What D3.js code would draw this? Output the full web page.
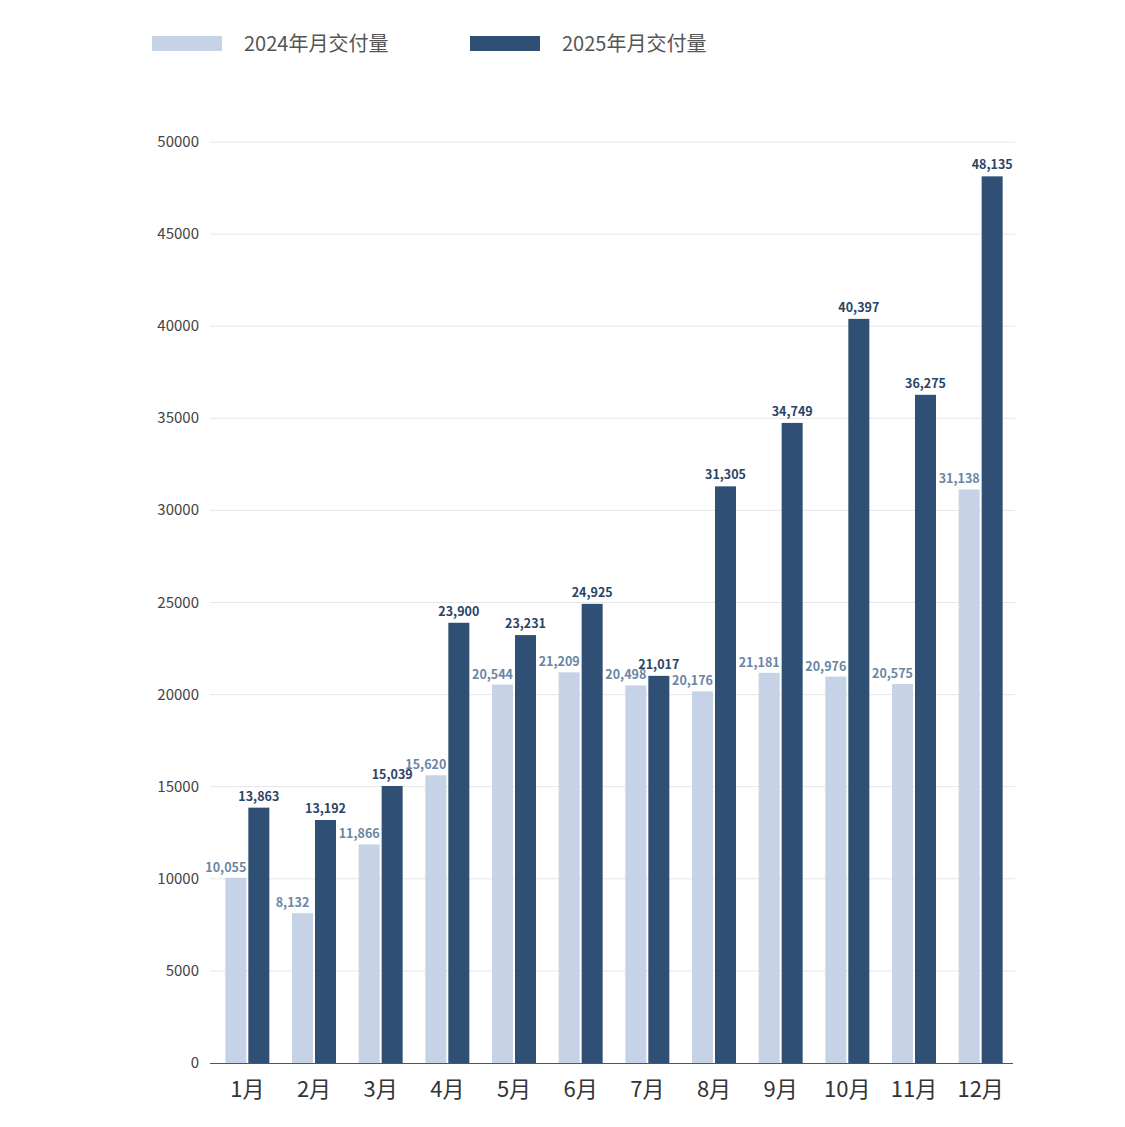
<!DOCTYPE html>
<html lang="zh">
<head>
<meta charset="UTF-8" />
<script src="https://d3js.org/d3.v7.min.js"></script>
<style>
  body { margin: 0; background: #fff; font-family: "Noto Sans CJK SC", "Noto Sans", sans-serif; }
</style>
</head>
<body>
<div id="chart"></div>
<script>
const months = ["1月","2月","3月","4月","5月","6月","7月","8月","9月","10月","11月","12月"];
const sales2024 = [10055, 8132, 11866, 15620, 20544, 21209, 20498, 20176, 21181, 20976, 20575, 31138];
const sales2025 = [13863, 13192, 15039, 23900, 23231, 24925, 21017, 31305, 34749, 40397, 36275, 48135];
const seriesNames = ["2024年月交付量", "2025年月交付量"];
const yTicks = [0, 5000, 10000, 15000, 20000, 25000, 30000, 35000, 40000, 45000, 50000];

const width = 1125, height = 1127;
const lightColor = "#c6d3e6", darkColor = "#2f4f75";

const svg = d3.select("#chart").append("svg").attr("width", width).attr("height", height);

const y = d3.scaleLinear().domain([0, 50000]).range([1063, 142]);
const x = d3.scaleBand().domain(months).range([214, 1014]).paddingInner(0.34).paddingOuter(0.17);
const bw = 21;

// grid
svg.append("g").selectAll("line").data(yTicks.slice(1)).join("line")
  .attr("x1", 210).attr("x2", 1015)
  .attr("y1", d => y(d)).attr("y2", d => y(d))
  .attr("stroke", "#e6e6e6").attr("stroke-width", 1);

svg.append("g").selectAll("text").data(yTicks).join("text")
  .attr("x", 199).attr("y", d => y(d) + 5)
  .attr("text-anchor", "end").attr("font-size", 15).attr("fill", "#444")
  .text(d => d);

// bars
const cx = m => x(m) + x.bandwidth() / 2;
svg.append("g").selectAll("rect").data(sales2024).join("rect")
  .attr("x", (d, i) => cx(months[i]) - bw - 1).attr("width", bw)
  .attr("y", d => y(d)).attr("height", d => y(0) - y(d)).attr("fill", lightColor);
svg.append("g").selectAll("rect").data(sales2025).join("rect")
  .attr("x", (d, i) => cx(months[i]) + 1).attr("width", bw)
  .attr("y", d => y(d)).attr("height", d => y(0) - y(d)).attr("fill", darkColor);

// value labels
const fmt = d3.format(",");
svg.append("g").selectAll("text").data(sales2024).join("text")
  .attr("x", (d, i) => cx(months[i]) - bw / 2 - 11).attr("y", d => y(d) - 6)
  .attr("text-anchor", "middle").attr("font-size", 12.5).attr("font-weight", 600)
  .attr("fill", "#6a86a3").text(d => fmt(d));
svg.append("g").selectAll("text").data(sales2025).join("text")
  .attr("x", (d, i) => cx(months[i]) + 1 + bw / 2).attr("y", d => y(d) - 7)
  .attr("text-anchor", "middle").attr("font-size", 12.5).attr("font-weight", 700)
  .attr("fill", "#2a4468").text(d => fmt(d));

// x axis
svg.append("line").attr("x1", 210).attr("x2", 1013).attr("y1", 1063.5).attr("y2", 1063.5)
  .attr("stroke", "#555").attr("stroke-width", 1.2);
svg.append("g").selectAll("text").data(months).join("text")
  .attr("x", d => cx(d)).attr("y", 1097)
  .attr("text-anchor", "middle").attr("font-size", 22).attr("fill", "#333").text(d => d);

// legend
const legend = [
  { name: seriesNames[0], color: lightColor, x: 152 },
  { name: seriesNames[1], color: darkColor, x: 470 }
];
const lg = svg.append("g").selectAll("g").data(legend).join("g");
lg.append("rect").attr("x", d => d.x).attr("y", 36).attr("width", 70).attr("height", 15).attr("fill", d => d.color);
lg.append("text").attr("x", d => d.x + 92).attr("y", 51).attr("font-size", 20).attr("fill", "#555").text(d => d.name);
</script>
</body>
</html>
